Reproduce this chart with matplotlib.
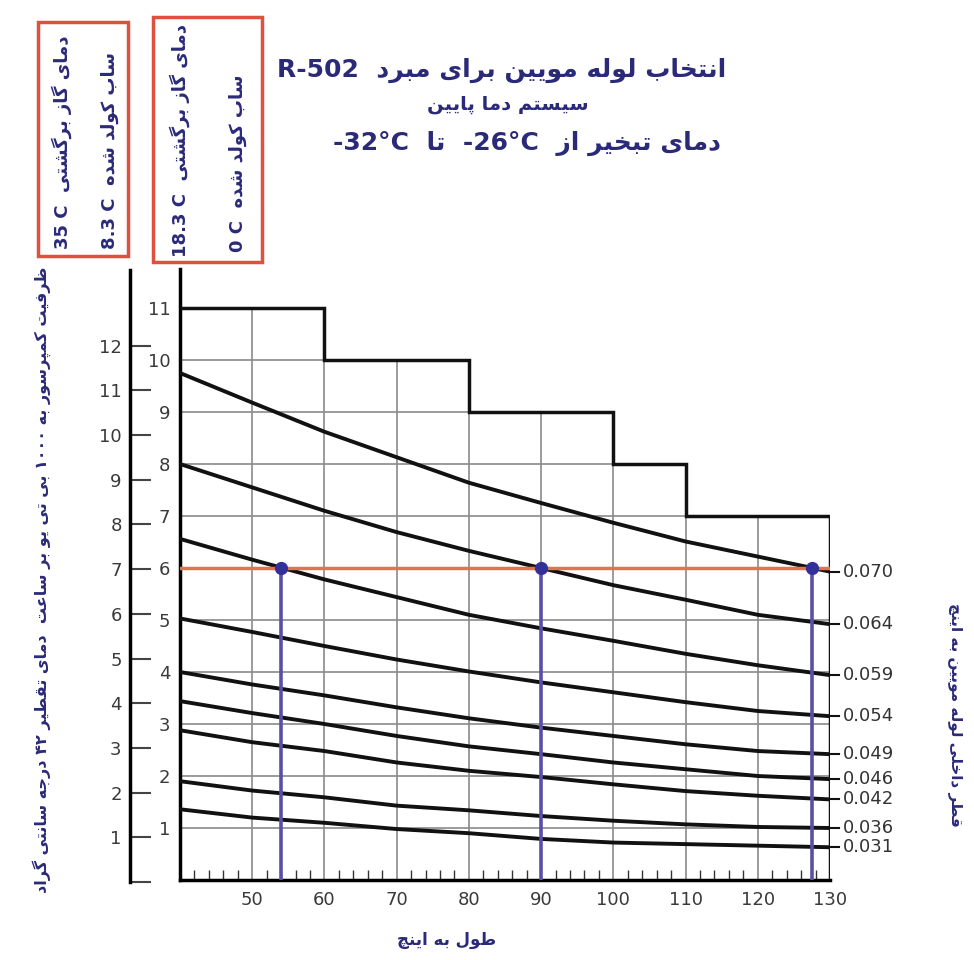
import re
import numpy as np
import matplotlib
matplotlib.use('Agg')
import matplotlib.pyplot as plt
from matplotlib.patches import Rectangle

plt.rcParams['font.family'] = ['DejaVu Sans']

# ---- data ----
length_in = [40, 50, 60, 70, 80, 90, 100, 110, 120, 130]
tube_ids = ['0.070', '0.064', '0.059', '0.054', '0.049', '0.046', '0.042', '0.036', '0.031']
capacity = [
    [9.75, 9.18, 8.62, 8.13, 7.64, 7.25, 6.87, 6.51, 6.22, 5.93],
    [8.0, 7.55, 7.1, 6.69, 6.33, 6.0, 5.67, 5.39, 5.1, 4.92],
    [6.56, 6.16, 5.78, 5.44, 5.1, 4.84, 4.6, 4.35, 4.13, 3.94],
    [5.03, 4.77, 4.5, 4.24, 4.01, 3.8, 3.61, 3.42, 3.25, 3.15],
    [4.0, 3.76, 3.55, 3.32, 3.11, 2.93, 2.77, 2.61, 2.48, 2.42],
    [3.44, 3.21, 3.0, 2.77, 2.57, 2.42, 2.26, 2.13, 2.0, 1.94],
    [2.88, 2.65, 2.48, 2.26, 2.1, 1.98, 1.84, 1.71, 1.62, 1.55],
    [1.9, 1.72, 1.59, 1.43, 1.34, 1.23, 1.14, 1.07, 1.02, 1.0],
    [1.36, 1.2, 1.1, 0.98, 0.9, 0.79, 0.72, 0.69, 0.66, 0.63],
]
stair_x = [40, 60, 80, 100, 110, 130]
stair_top = [11, 10, 9, 8, 7]
target_cap = 6
hit_x = [54, 90, 127.5]
outer_ticks = list(range(0, 13))
inner_ticks = list(range(1, 12))
x_ticks = list(range(50, 131, 10))

# ---- tiny persian shaper (matplotlib does no arabic shaping) ----
FORMS = {
    'ا': (0xFE8D, 0xFE8E, None, None), 'ب': (0xFE8F, 0xFE90, 0xFE91, 0xFE92),
    'پ': (0xFB56, 0xFB57, 0xFB58, 0xFB59), 'ت': (0xFE95, 0xFE96, 0xFE97, 0xFE98),
    'ج': (0xFE9D, 0xFE9E, 0xFE9F, 0xFEA0), 'چ': (0xFB7A, 0xFB7B, 0xFB7C, 0xFB7D),
    'خ': (0xFEA5, 0xFEA6, 0xFEA7, 0xFEA8), 'د': (0xFEA9, 0xFEAA, None, None),
    'ر': (0xFEAD, 0xFEAE, None, None), 'ز': (0xFEAF, 0xFEB0, None, None),
    'س': (0xFEB1, 0xFEB2, 0xFEB3, 0xFEB4), 'ش': (0xFEB5, 0xFEB6, 0xFEB7, 0xFEB8),
    'ط': (0xFEC1, 0xFEC2, 0xFEC3, 0xFEC4), 'ظ': (0xFEC5, 0xFEC6, 0xFEC7, 0xFEC8),
    'ع': (0xFEC9, 0xFECA, 0xFECB, 0xFECC), 'ف': (0xFED1, 0xFED2, 0xFED3, 0xFED4),
    'ق': (0xFED5, 0xFED6, 0xFED7, 0xFED8), 'ک': (0xFB8E, 0xFB8F, 0xFB90, 0xFB91),
    'گ': (0xFB92, 0xFB93, 0xFB94, 0xFB95), 'ل': (0xFEDD, 0xFEDE, 0xFEDF, 0xFEE0),
    'م': (0xFEE1, 0xFEE2, 0xFEE3, 0xFEE4), 'ن': (0xFEE5, 0xFEE6, 0xFEE7, 0xFEE8),
    'ه': (0xFEE9, 0xFEEA, 0xFEEB, 0xFEEC), 'و': (0xFEED, 0xFEEE, None, None),
    'ی': (0xFBFC, 0xFBFD, 0xFBFE, 0xFBFF),
}


def shape(s):
    s = s.replace('\u064A', '\u06CC').replace('\u0643', '\u06A9')
    out = []
    for i, ch in enumerate(s):
        f = FORMS.get(ch)
        if f is None:
            out.append(ch)
            continue
        prev = s[i - 1] if i > 0 else ''
        nxt = s[i + 1] if i < len(s) - 1 else ''
        jp = prev in FORMS and FORMS[prev][2] is not None
        jn = f[2] is not None and nxt in FORMS
        if jp and jn:
            c = f[3]
        elif jp:
            c = f[1]
        elif jn:
            c = f[2]
        else:
            c = f[0]
        out.append(chr(c))
    return ''.join(out)


LTR = r'[0-9\u06F0-\u06F9A-Za-z.°\-]'


def fa(s):
    runs = re.findall(LTR + '+|[^0-9\u06F0-\u06F9A-Za-z.°\-]+', shape(s))
    return ''.join(r if re.match(LTR, r) else r[::-1] for r in reversed(runs))


navy = '#2b2a78'
W, H = 974, 960
fig = plt.figure(figsize=(W / 100, H / 100), dpi=100)


def fx(x):
    return x / W


def fy(y):
    return 1 - y / H


# ---- main chart ----
ax = fig.add_axes([fx(180), fy(880), 650 / W, 611 / H])
ax.set_xlim(40, 130)
ax.set_ylim(0, 611 / 52)
for s in ['top', 'right']:
    ax.spines[s].set_visible(False)
for s in ['left', 'bottom']:
    ax.spines[s].set_linewidth(2.5)

# grid clipped under staircase
for k in range(1, stair_top[0]):
    idx = max(i for i, t in enumerate(stair_top) if t >= k)
    ax.plot([stair_x[0], stair_x[idx + 1]], [k, k], color='#8a8a8a', lw=1.2, zorder=1)
for xv in x_ticks[:-1]:
    i = max(j for j in range(len(stair_top)) if stair_x[j] <= xv)
    top = stair_top[i - 1] if stair_x[i] == xv and i > 0 else stair_top[i]
    ax.plot([xv, xv], [0, top], color='#8a8a8a', lw=1.2, zorder=1)

ax.stairs(stair_top, stair_x, baseline=None, color='#111111', lw=2.5, zorder=3)
ax.vlines(stair_x[-1], 0, stair_top[-1], color='#111111', lw=2.5, zorder=3)

for tid, cap in zip(tube_ids, capacity):
    ax.plot(length_in, cap, color='#111111', lw=2.8, zorder=3)
    ax.plot([length_in[-1], length_in[-1] + 1.2], [cap[-1], cap[-1]],
            color='#111111', lw=1.5, clip_on=False)
    ax.text(length_in[-1] + 1.8, cap[-1], tid, fontsize=13, color='#333333',
            va='center', ha='left', clip_on=False)

ax.plot([length_in[0], length_in[-1]], [target_cap, target_cap],
        color='#e07452', lw=2.5, zorder=4)
for xv in hit_x:
    ax.plot([xv, xv], [0, target_cap], color='#5a4fa6', lw=2.6, zorder=4)
ax.plot(hit_x, [target_cap] * len(hit_x), 'o', color='#33309a', ms=8.5, zorder=5)

ax.set_xticks(x_ticks)
ax.set_xticks(np.arange(42, 130, 2), minor=True)
ax.set_yticks(inner_ticks)
ax.tick_params(axis='x', which='major', length=0, pad=8, labelsize=13,
               labelcolor='#3a3a3a')
ax.tick_params(axis='x', which='minor', direction='in', length=7, width=1,
               color='#333333')
ax.tick_params(axis='y', length=0, pad=7, labelsize=13, labelcolor='#3a3a3a')

# ---- outer capacity axis ----
ax2 = fig.add_axes([fx(130), fy(882), 20 / W, 612 / H])
ax2.set_ylim(0, 612 / 44.7)
ax2.patch.set_visible(False)
for s in ['top', 'right', 'bottom']:
    ax2.spines[s].set_visible(False)
ax2.spines['left'].set_linewidth(2.5)
ax2.set_xticks([])
ax2.set_yticks(outer_ticks)
ax2.set_yticklabels([''] + [str(t) for t in outer_ticks[1:]])
ax2.tick_params(axis='y', direction='in', length=15, width=1.5, color='#444444',
                pad=6, labelsize=13, labelcolor='#3a3a3a')

# ---- titles and labels ----
fig.text(fx(502), fy(70), 'R-502  ' + fa('انتخاب لوله مویین برای مبرد'),
         ha='center', va='center', fontsize=18, fontweight='bold', color=navy)
fig.text(fx(508), fy(105), fa('سیستم دما پایین'),
         ha='center', va='center', fontsize=14, fontweight='bold', color=navy)
fig.text(fx(527), fy(143), '-32°C  ' + fa('تا') + '  -26°C  ' + fa('دمای تبخیر از'),
         ha='center', va='center', fontsize=18, fontweight='bold', color=navy)

fig.text(fx(42), fy(580),
         fa('ظرفیت کمپرسور به ۱۰۰۰ بی تی یو بر ساعت  دمای تقطیر ۴۲ درجه سانتی گراد'),
         rotation=90, ha='center', va='center', fontsize=11.5, fontweight='bold',
         color=navy)
fig.text(fx(955), fy(715), fa('قطر داخلی لوله مویین به اینچ'),
         rotation=-90, ha='center', va='center', fontsize=11, fontweight='bold',
         color=navy)
fig.text(fx(447), fy(940), fa('طول به اینچ'), ha='center', va='center',
         fontsize=12, fontweight='bold', color=navy)

# ---- condition boxes ----
boxes = [(38, 22, 128, 256), (153, 17, 262, 262)]
for x0, y0, x1, y1 in boxes:
    fig.patches.append(Rectangle((fx(x0), fy(y1)), (x1 - x0) / W, (y1 - y0) / H,
                                 transform=fig.transFigure, fill=False,
                                 edgecolor='#e0503e', lw=2.5))
box_texts = [
    (62, 249, '35 C  ' + fa('دمای گاز برگشتی')),
    (110, 249, '8.3 C  ' + fa('ساب کولد شده')),
    (180, 257, '18.3 C  ' + fa('دمای گاز برگشتی')),
    (238, 252, '0 C  ' + fa('ساب کولد شده')),
]
for x, y, t in box_texts:
    fig.text(fx(x), fy(y), t, rotation=90, ha='center', va='bottom',
             fontsize=13, fontweight='bold', color=navy)

fig.savefig('out.png', dpi=100)
